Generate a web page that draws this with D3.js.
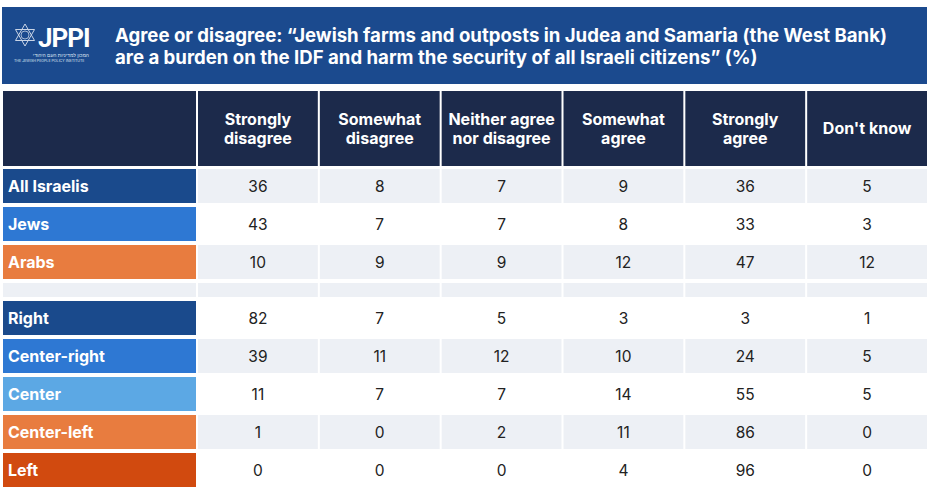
<!DOCTYPE html>
<html><head><meta charset="utf-8">
<script src="https://cdn.jsdelivr.net/npm/d3@7"></script>
<style>
html,body{margin:0;padding:0;background:#fff;}
svg{display:block;font-family:Inter,"Open Sans",sans-serif;}
</style></head>
<body><svg id="c" width="931" height="493"></svg>
<script>
const titleLines = ["Agree or disagree: \u201cJewish farms and outposts in Judea and Samaria (the West Bank)",
                    "are a burden on the IDF and harm the security of all Israeli citizens\u201d (%)"];
const columns = [["Strongly","disagree"],["Somewhat","disagree"],["Neither agree","nor disagree"],["Somewhat","agree"],["Strongly","agree"],["Don't know"]];
const groupA = ["All Israelis","Jews","Arabs"];
const groupB = ["Right","Center-right","Center","Center-left","Left"];
const values = {
  "All Israelis":[36,8,7,9,36,5],
  "Jews":[43,7,7,8,33,3],
  "Arabs":[10,9,9,12,47,12],
  "Right":[82,7,5,3,3,1],
  "Center-right":[39,11,12,10,24,5],
  "Center":[11,7,7,14,55,5],
  "Center-left":[1,0,2,11,86,0],
  "Left":[0,0,0,4,96,0]
};
const labelColors = {
  "All Israelis":"#1a4a8c","Jews":"#2e78d3","Arabs":"#e87c3f",
  "Right":"#1a4a8c","Center-right":"#2e78d3","Center":"#5ca8e4","Center-left":"#e87c3f","Left":"#d14a0f"
};

const svg = d3.select("#c");
const colKeys = columns.map(c=>c.join(" "));
const x = d3.scaleBand().domain(colKeys).range([198,927]).paddingInner(0.0165);
const yA = d3.scaleBand().domain(groupA).range([169,279]).paddingInner(4/38);
const yB = d3.scaleBand().domain(groupB).range([301,487]).paddingInner(4/38);
const y = r => groupA.includes(r) ? yA(r) : yB(r);
const bw = yA.bandwidth();
const grey = "#edf0f5", navy = "#1c2a4b";

// title band
svg.append("rect").attr("x",2).attr("y",7).attr("width",925).attr("height",77).attr("fill","#1b4a8e");
svg.selectAll("text.title").data(titleLines).join("text").attr("class","title")
  .attr("x",115).attr("y",(d,i)=>42+i*22).attr("fill","#fff")
  .attr("font-size",18.6).attr("font-weight",700).text(d=>d);

// logo
const lg = svg.append("g").attr("transform","translate(25,35)");
const triR = 11;
[0,180].forEach(rot=>{
  lg.append("path").attr("d",d3.range(3).map(i=>{const a=(rot-90+i*120)*Math.PI/180;return (i?"L":"M")+(triR*Math.cos(a)).toFixed(2)+","+(triR*Math.sin(a)).toFixed(2);}).join("")+"Z")
    .attr("fill","none").attr("stroke","#c9d4e6").attr("stroke-width",1);
});
lg.append("circle").attr("r",4).attr("fill","none").attr("stroke","#c9d4e6").attr("stroke-width",0.8);
svg.append("text").attr("x",38).attr("y",47).attr("fill","#fff").attr("font-size",26).attr("font-weight",700)
  .attr("font-family","Roboto, sans-serif").attr("letter-spacing",-1).text("JPPI");
svg.append("text").attr("x",89).attr("y",57).attr("fill","#dfe6f2").attr("font-size",5).attr("text-anchor","end")
  .attr("font-family","Noto Sans, sans-serif").text("המכון למדיניות העם היהודי");
svg.append("text").attr("x",14).attr("y",62).attr("fill","#dfe6f2").attr("font-size",3.6).text("THE JEWISH PEOPLE POLICY INSTITUTE");

// header
svg.append("rect").attr("x",3).attr("y",91).attr("width",193).attr("height",75).attr("fill",navy);
const hdr = svg.selectAll("g.hdr").data(columns).join("g").attr("class","hdr");
hdr.append("rect").attr("x",d=>x(d.join(" "))).attr("y",91).attr("width",x.bandwidth()).attr("height",75).attr("fill",navy);
hdr.each(function(d){
  const g = d3.select(this);
  const cx = x(d.join(" "))+x.bandwidth()/2;
  const y0 = d.length===1 ? 134 : 125;
  g.selectAll("text").data(d).join("text").attr("x",cx).attr("y",(t,i)=>y0+i*19)
    .attr("text-anchor","middle").attr("fill","#fff").attr("font-size",16).attr("font-weight",700).text(t=>t);
});

// spacer row
svg.append("rect").attr("x",3).attr("y",283).attr("width",193).attr("height",14).attr("fill",grey);
svg.selectAll("rect.sp").data(colKeys).join("rect").attr("class","sp")
  .attr("x",d=>x(d)).attr("y",283).attr("width",x.bandwidth()).attr("height",14).attr("fill",grey);

// body rows
const rows = groupA.concat(groupB);
const shaded = new Set(["All Israelis","Arabs","Center-right","Center-left"]);
const rg = svg.selectAll("g.row").data(rows).join("g").attr("class","row");
rg.append("rect").attr("x",3).attr("y",d=>y(d)).attr("width",193).attr("height",bw).attr("fill",d=>labelColors[d]);
rg.append("text").attr("x",8).attr("y",d=>y(d)+bw/2+5.5).attr("fill","#fff").attr("font-size",16).attr("font-weight",700).text(d=>d);
rg.each(function(r){
  const g = d3.select(this);
  const cells = values[r].map((v,i)=>({v,c:colKeys[i]}));
  g.selectAll("rect.cell").data(cells).join("rect").attr("class","cell")
    .attr("x",d=>x(d.c)).attr("y",y(r)).attr("width",x.bandwidth()).attr("height",bw)
    .attr("fill",shaded.has(r)?grey:"#fff");
  g.selectAll("text.val").data(cells).join("text").attr("class","val")
    .attr("x",d=>x(d.c)+x.bandwidth()/2).attr("y",y(r)+bw/2+5.5)
    .attr("text-anchor","middle").attr("fill","#222").attr("font-size",15.5).text(d=>d.v);
});
</script></body></html>
